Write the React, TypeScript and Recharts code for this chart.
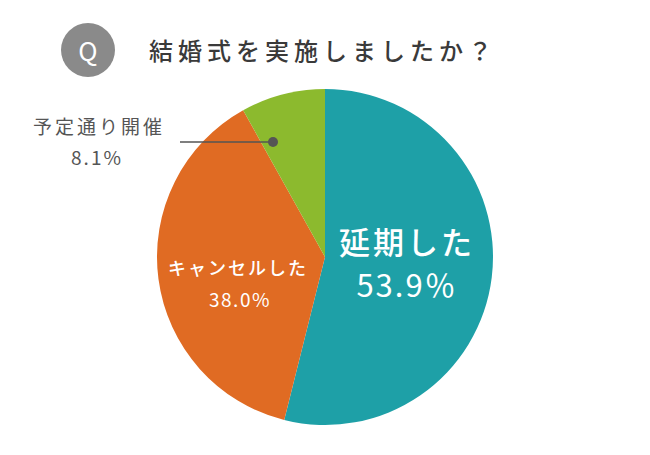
import { PieChart, Pie, Cell } from 'recharts';

const categories = ['延期した', 'キャンセルした', '予定通り開催'];
const shares = [53.9, 38.0, 8.1];
const shareLabels = ['53.9％', '38.0%', '8.1%'];
const colors = ['#1ea0a7', '#e06b23', '#8cba2e'];

const data = categories.map((name, i) => ({ name, value: shares[i] }));

const FONT = '"Noto Sans CJK JP", "Noto Sans", sans-serif';

function renderLabel(props: any) {
    const { cx, cy, index } = props;
    if (index === 0) {
        return (
            <g>
                <text x={cx + 82} y={cy - 3} textAnchor="middle" fill="#fff" fontSize={31} fontWeight={500} fontFamily={FONT} letterSpacing={3}>
                    {categories[0]}
                </text>
                <text x={cx + 82} y={cy + 40} textAnchor="middle" fill="#fff" fontSize={31} fontFamily={FONT} letterSpacing={2}>
                    {shareLabels[0]}
                </text>
            </g>
        );
    }
    if (index === 1) {
        return (
            <g>
                <text x={cx - 87} y={cy + 18} textAnchor="middle" fill="#fff" fontSize={18} fontWeight={500} fontFamily={FONT} letterSpacing={2}>
                    {categories[1]}
                </text>
                <text x={cx - 85} y={cy + 50} textAnchor="middle" fill="#fff" fontSize={19} fontFamily={FONT} letterSpacing={1.5}>
                    {shareLabels[1]}
                </text>
            </g>
        );
    }
    return (
        <g>
            <line x1={cx - 145} y1={cy - 115} x2={cx - 53} y2={cy - 115} stroke="#555" strokeWidth={1.5} />
            <circle cx={cx - 52} cy={cy - 115} r={5} fill="#555" />
            <text x={cx - 226} y={cy - 123} textAnchor="middle" fill="#555" fontSize={19} fontFamily={FONT} letterSpacing={3}>
                {categories[2]}
            </text>
            <text x={cx - 228} y={cy - 92} textAnchor="middle" fill="#555" fontSize={19} fontFamily={FONT} letterSpacing={2}>
                {shareLabels[2]}
            </text>
        </g>
    );
}

export default function App() {
    return (
        <div style={{ position: 'absolute', left: 0, top: 0, width: 650, height: 455, background: '#fff' }}>
            <div style={{ position: 'absolute', left: 61, top: 23, width: 54, height: 54, borderRadius: '50%', background: '#8a8a8a', color: '#fff', fontFamily: FONT, fontSize: 26, lineHeight: '54px', textAlign: 'center' }}>
                Q
            </div>
            <div style={{ position: 'absolute', left: 149, top: 32, fontFamily: FONT, fontSize: 24, fontWeight: 500, color: '#3a3a3a', letterSpacing: 5, lineHeight: '36px', whiteSpace: 'nowrap' }}>
                結婚式を実施しましたか？
            </div>
            <PieChart width={650} height={455} margin={{ top: 0, right: 0, bottom: 0, left: 0 }} style={{ position: 'absolute', left: 0, top: 0 }}>
                <Pie
                    data={data}
                    dataKey="value"
                    nameKey="name"
                    cx={325}
                    cy={257}
                    outerRadius={168}
                    startAngle={90}
                    endAngle={-270}
                    stroke="none"
                    label={renderLabel}
                    labelLine={false}
                    isAnimationActive={false}
                >
                    {data.map((d, i) => (
                        <Cell key={d.name} fill={colors[i]} />
                    ))}
                </Pie>
            </PieChart>
        </div>
    );
}
